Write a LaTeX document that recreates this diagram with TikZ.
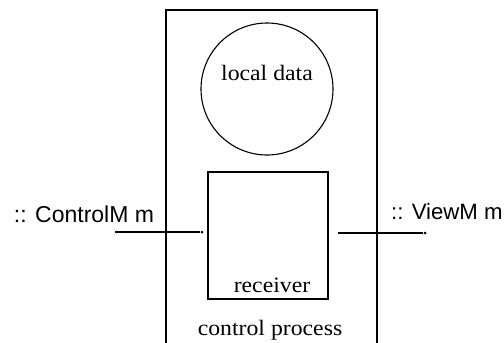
\documentclass[tikz,border=0pt]{standalone}
\usepackage{fontspec}
\setmainfont{Liberation Serif}
\newfontfamily\labelfont{Liberation Sans}
\newcommand{\widetext}[1]{\scalebox{1.08}[1]{#1}}
\begin{document}
\begin{tikzpicture}[x=1pt,y=-1pt,
  edge/.style={line width=1.1pt,black},
  serif/.style={font=\fontsize{22}{25}\selectfont,inner sep=0pt,anchor=base},
  sans/.style={font=\labelfont\fontsize{23}{26}\selectfont,inner sep=0pt},
  enddot/.style={circle,fill=black,inner sep=0pt,minimum size=3pt}]
\useasboundingbox (0,0) rectangle (504,343);
% outer process box (bottom runs off the picture)
\coordinate (obl) at (166,343);
\coordinate (otl) at (166,10);
\coordinate (otr) at (377,10);
\coordinate (obr) at (377,343);
\draw[edge] (obl) -- (otl) -- (otr) -- (obr);
% local data circle
\node[draw,line width=1.1pt,circle,minimum size=132pt,inner sep=0pt] (data) at (267,89) {};
\node[serif] (datat) at (267,80) {\widetext{local data}};
% receiver box
\node[draw,line width=1.1pt,minimum width=120pt,minimum height=127pt,inner sep=0pt] (recv) at (268,235.5) {};
\node[serif] (recvt) at (272,292) {\widetext{receiver}};
\node[serif] (proc) at (270,335) {\widetext{control process}};
% left connector
\coordinate (lin) at (115,232);
\node[enddot] (ldot) at (202,232) {};
\draw[edge] (lin) -- (ldot);
\node[sans] (ctl) at (84,214) {:: ControlM m};
% right connector
\coordinate (rout) at (338,233);
\node[enddot] (rdot) at (425,233) {};
\draw[edge] (rout) -- (rdot);
\node[sans,anchor=west,font=\labelfont\fontsize{22.2}{25}\selectfont] (view) at (391,212) {:: ViewM m};
\end{tikzpicture}
\end{document}
